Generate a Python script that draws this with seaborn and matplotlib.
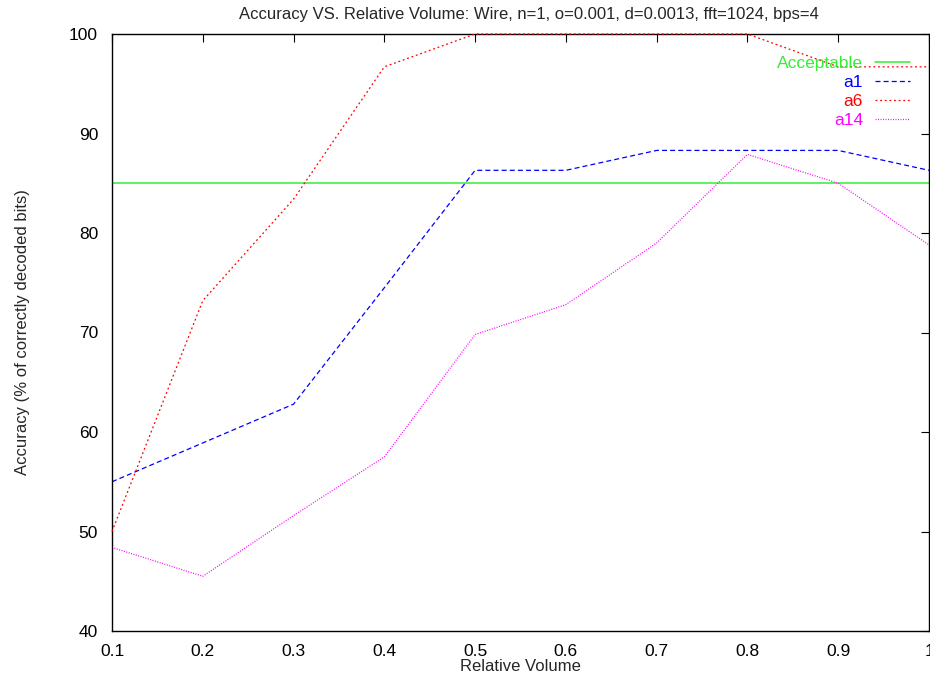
import matplotlib
matplotlib.use("Agg")
import matplotlib.pyplot as plt
import seaborn as sns
import pandas as pd

# data
volume = [0.1, 0.2, 0.3, 0.4, 0.5, 0.6, 0.7, 0.8, 0.9, 1.0]
a1 = [55.0, 58.9, 62.8, 74.5, 86.3, 86.3, 88.3, 88.3, 88.3, 86.3]
a6 = [50.0, 73.2, 83.4, 96.7, 100.0, 100.0, 100.0, 100.0, 96.7, 96.7]
a14 = [48.4, 45.5, 51.6, 57.5, 69.8, 72.8, 79.0, 87.9, 85.0, 78.8]
acceptable = 85.0

x_ticks = [0.1, 0.2, 0.3, 0.4, 0.5, 0.6, 0.7, 0.8, 0.9, 1.0]
x_tick_labels = ["0.1", "0.2", "0.3", "0.4", "0.5", "0.6", "0.7", "0.8", "0.9", "1"]
y_ticks = [40, 50, 60, 70, 80, 90, 100]

sns.set_style("white")
plt.rcParams['font.family'] = ['Liberation Sans', 'DejaVu Sans']

df = pd.DataFrame({'volume': volume, 'a1': a1, 'a6': a6, 'a14': a14})

fig = plt.figure(figsize=(9.3, 6.77), dpi=100)
ax = fig.add_axes([112 / 930, 1 - 631 / 677, 817 / 930, 597 / 677])

ax.axhline(acceptable, color='#33ee33', lw=1.1, label='Acceptable')
sns.lineplot(data=df, x='volume', y='a1', ax=ax, color='#0000ff', lw=0.9,
             linestyle=(0, (4, 2.5)), label='a1')
sns.lineplot(data=df, x='volume', y='a6', ax=ax, color='#ff0000', lw=0.9,
             linestyle=(0, (1.5, 2.2)), label='a6', zorder=3, clip_on=False)
sns.lineplot(data=df, x='volume', y='a14', ax=ax, color='#ff00ff', lw=0.9,
             linestyle=(0, (0.8, 1.2)), label='a14')

ax.set_xlim(0.1, 1.0)
ax.set_ylim(40, 100)
ax.set_xticks(x_ticks)
ax.set_xticklabels(x_tick_labels)
ax.set_yticks(y_ticks)
ax.tick_params(direction='in', length=6, width=0.8, top=True, right=True,
               labelsize=12.5, colors='black')
ax.tick_params(axis='x', pad=9)
ax.tick_params(axis='y', pad=10)
for s in ax.spines.values():
    s.set_linewidth(1.0)
    s.set_color('black')

ax.set_xlabel('Relative Volume', fontsize=12)
ax.xaxis.set_label_coords(0.5, -0.0475)
ax.set_ylabel('Accuracy (% of correctly decoded bits)', fontsize=12, labelpad=28)
ax.set_title('Accuracy VS. Relative Volume: Wire, n=1, o=0.001, d=0.0013, fft=1024, bps=4',
             fontsize=12, pad=11, x=0.51)

leg = ax.legend(loc='upper right', bbox_to_anchor=(0.985, 0.975), frameon=False,
                markerfirst=False, labelcolor='linecolor', fontsize=12.5,
                handlelength=2.0, handletextpad=0.7, labelspacing=0.22,
                borderaxespad=0)

fig.savefig('out.png', dpi=100)
